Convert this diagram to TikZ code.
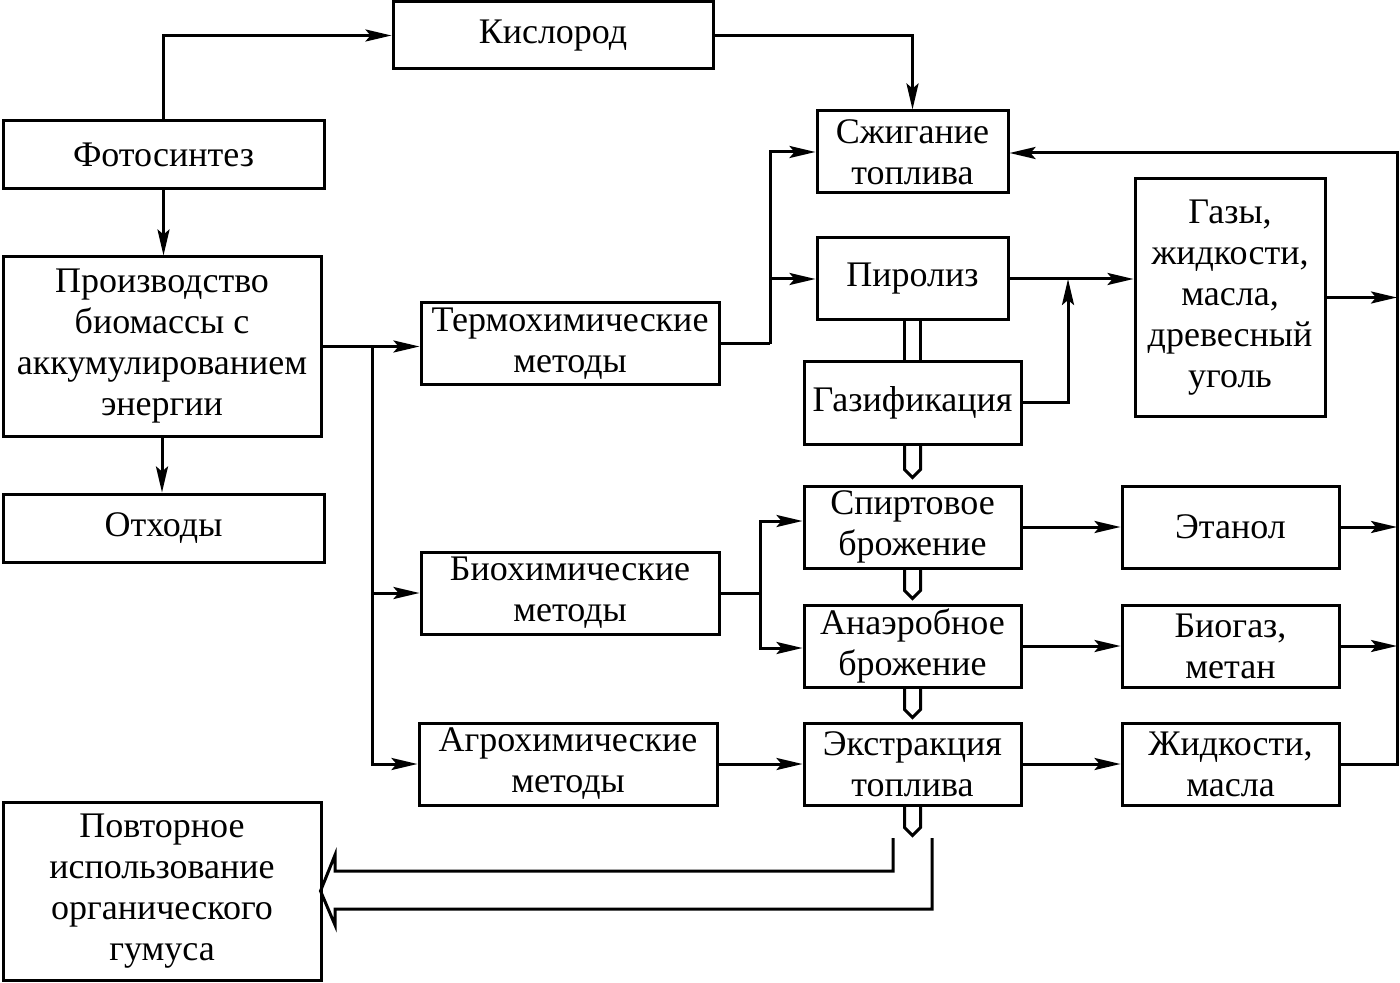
\documentclass[tikz,border=0pt]{standalone}
\usepackage{fontspec}
\setmainfont{Liberation Serif}
\usetikzlibrary{arrows.meta,calc}
\tikzset{
  box/.style={draw, line width=1.5pt, align=center, inner sep=0pt,
    font=\fontsize{18pt}{20.5pt}\selectfont},
  conn/.style={line width=1.5pt},
  arr/.style={conn, -{Stealth[length=13pt,width=6pt,inset=2.5pt]}},
  hol/.style={line width=1.5pt, line join=miter},
}
\begin{document}
\begin{tikzpicture}[x=0.5pt,y=-0.5pt]
\useasboundingbox (0,0) rectangle (1400,983);
% nodes
\node[box, minimum width=160pt, minimum height=33.5pt] (kis) at (553,35.5) {Кислород};
\node[box, minimum width=160.5pt, minimum height=34pt] (foto) at (163.5,155) {Фотосинтез};
\node[box, minimum width=159pt, minimum height=89.5pt] (proiz) at (162,346.5) {Производство\\биомассы с\\аккумулированием\\энергии};
\node[box, minimum width=160.5pt, minimum height=34pt] (otx) at (163.5,528) {Отходы};
\node[box, minimum width=159pt, minimum height=89pt] (povt) at (162,891) {Повторное\\использование\\органического\\гумуса};
\node[box, minimum width=149pt, minimum height=41pt] (termo) at (570,344) {Термохимические\\методы};
\node[box, minimum width=149pt, minimum height=41pt] (bio) at (570,593) {Биохимические\\методы};
\node[box, minimum width=149pt, minimum height=41pt] (agro) at (568,764) {Агрохимические\\методы};
\node[box, minimum width=95.5pt, minimum height=41pt] (szh) at (912.5,152) {Сжигание\\топлива};
\node[box, minimum width=95.5pt, minimum height=41pt] (piro) at (912.5,279) {Пиролиз};
\node[box, minimum width=108.5pt, minimum height=41pt] (gaz) at (912.5,403) {Газификация};
\node[box, minimum width=108.5pt, minimum height=41pt] (spirt) at (912.5,527) {Спиртовое\\брожение};
\node[box, minimum width=108.5pt, minimum height=41pt] (anaer) at (912.5,646) {Анаэробное\\брожение};
\node[box, minimum width=108.5pt, minimum height=41pt] (ekstr) at (912.5,764) {Экстракция\\топлива};
\node[box, minimum width=95pt, minimum height=118.5pt] (gazy) at (1230,297.5) {Газы,\\жидкости,\\масла,\\древесный\\уголь};
\node[box, minimum width=108.5pt, minimum height=41pt] (etan) at (1230.5,527) {Этанол};
\node[box, minimum width=108.5pt, minimum height=41pt] (biogaz) at (1230.5,646) {Биогаз,\\метан};
\node[box, minimum width=108.5pt, minimum height=41pt] (zhidk) at (1230.5,764) {Жидкости,\\масла};
% junction coordinates
\coordinate (j1) at (372,346.5);
\coordinate (j2) at (770,344);
\coordinate (j3) at (1068,279);
\coordinate (j4) at (760,593);
\coordinate (r1) at (1397,153);
% connectors
\draw[arr] (foto.north) |- (kis.west);
\draw[arr] (kis.east) -| (szh.north);
\draw[arr] (foto.south) -- (foto.south |- proiz.north);
\draw[arr] (proiz.south) -- (proiz.south |- otx.north);
\draw[arr] (proiz.east) -- (proiz.east -| termo.west);
\draw[arr] (j1) |- (bio.west);
\draw[arr] (j1) |- (agro.west);
\draw[conn] (termo.east) -- (j2);
\draw[arr] (j2) |- (szh.west);
\draw[arr] (j2) |- (piro.west);
\draw[arr] (piro.east) -- (piro.east -| gazy.west);
\draw[arr] (gaz.east) -| (j3);
\draw[conn] (bio.east) -- (j4);
\draw[arr] (j4) |- ([yshift=3pt]spirt.west);
\draw[arr] (j4) |- ([yshift=-1pt]anaer.west);
\draw[arr] (agro.east) -- (agro.east -| ekstr.west);
\draw[arr] (spirt.east) -- (spirt.east -| etan.west);
\draw[arr] (anaer.east) -- (anaer.east -| biogaz.west);
\draw[arr] (ekstr.east) -- (ekstr.east -| zhidk.west);
\draw[arr] (zhidk.east) -| (r1) -- (r1 -| szh.east);
\draw[arr] (gazy.east) -- (gazy.east -| r1);
\draw[arr] (etan.east) -- (etan.east -| r1);
\draw[arr] (biogaz.east) -- (biogaz.east -| r1);
% hollow connectors
\draw[hol] ([xshift=-4pt]piro.south) -- ([xshift=-4pt]gaz.north);
\draw[hol] ([xshift=4pt]piro.south) -- ([xshift=4pt]gaz.north);
\draw[hol] ([xshift=-4pt]gaz.south) -- ++(0,24) -- ++(8,8) -- ++(8,-8) -- ([xshift=4pt]gaz.south);
\draw[hol] ([xshift=-4pt]spirt.south) -- ++(0,21) -- ++(8,8) -- ++(8,-8) -- ([xshift=4pt]spirt.south);
\draw[hol] ([xshift=-4pt]anaer.south) -- ++(0,21) -- ++(8,8) -- ++(8,-8) -- ([xshift=4pt]anaer.south);
\draw[hol] ([xshift=-4pt]ekstr.south) -- ++(0,21) -- ++(8,8) -- ++(8,-8) -- ([xshift=4pt]ekstr.south);
% big hollow arrow to povt
\draw[hol] (893,838) -- (893,871) -- (335,871) -- (335,855) -- ([xshift=-1pt]povt.east) -- (335,925) -- (335,909) -- (932,909) -- (932,838);
\end{tikzpicture}
\end{document}
